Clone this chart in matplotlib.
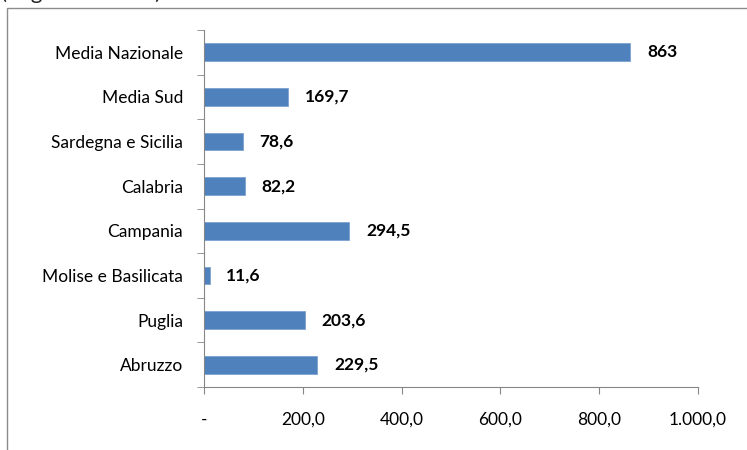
import matplotlib.pyplot as plt
from matplotlib.patches import Rectangle
from matplotlib.ticker import FixedLocator

regioni = ["Abruzzo", "Puglia", "Molise e Basilicata", "Campania",
           "Calabria", "Sardegna e Sicilia", "Media Sud", "Media Nazionale"]
valori = [229.5, 203.6, 11.6, 294.5, 82.2, 78.6, 169.7, 863]
etichette = ["229,5", "203,6", "11,6", "294,5", "82,2", "78,6", "169,7", "863"]
xticks = [0, 200, 400, 600, 800, 1000]
xticklabels = ["-", "200,0", "400,0", "600,0", "800,0", "1.000,0"]

plt.rcParams['font.family'] = ['Lato', 'DejaVu Sans']

fig = plt.figure(figsize=(7.47, 4.50), dpi=100)
W, H = 747, 450

# cornice del grafico
fig.patches.append(Rectangle((7 / W, -0.1), 1.2, 1 - 8 / H + 0.1,
                             transform=fig.transFigure, fill=False,
                             edgecolor='#8c8c8c', linewidth=1.0))
# titolo tagliato in alto
fig.text(1 / W, 1 + 1 / H, "(migliaia di euro)", fontsize=16,
         va='baseline', ha='left', color='#222222')

ax = fig.add_axes([204 / W, 1 - 387 / H, 494 / W, 357 / H])
y = range(len(regioni))
ax.barh(y, valori, height=0.4, color='#4F81BD', edgecolor='#7DA2D0', linewidth=0.6)
for yi, v, lab in zip(y, valori, etichette):
    ax.annotate(lab, (v, yi), xytext=(12, 0), textcoords='offset points',
                va='center', ha='left', fontsize=12.5, fontweight='bold')

ax.set_xlim(0, 1000)
ax.set_ylim(-0.5, len(regioni) - 0.5)
ax.set_xticks(xticks)
ax.set_xticklabels(xticklabels, fontsize=12.5)
ax.set_yticks(list(y))
ax.set_yticklabels(regioni, fontsize=12.5)
ax.yaxis.set_minor_locator(FixedLocator([i - 0.5 for i in range(len(regioni) + 1)]))
ax.tick_params(axis='y', which='major', length=0, pad=15)
ax.tick_params(axis='y', which='minor', length=5, color='#868686', direction='out')
ax.tick_params(axis='x', length=5, color='#868686', direction='out', pad=13)

for s in ['top', 'right']:
    ax.spines[s].set_visible(False)
for s in ['left', 'bottom']:
    ax.spines[s].set_color('#868686')

fig.savefig("out.png", dpi=100)
